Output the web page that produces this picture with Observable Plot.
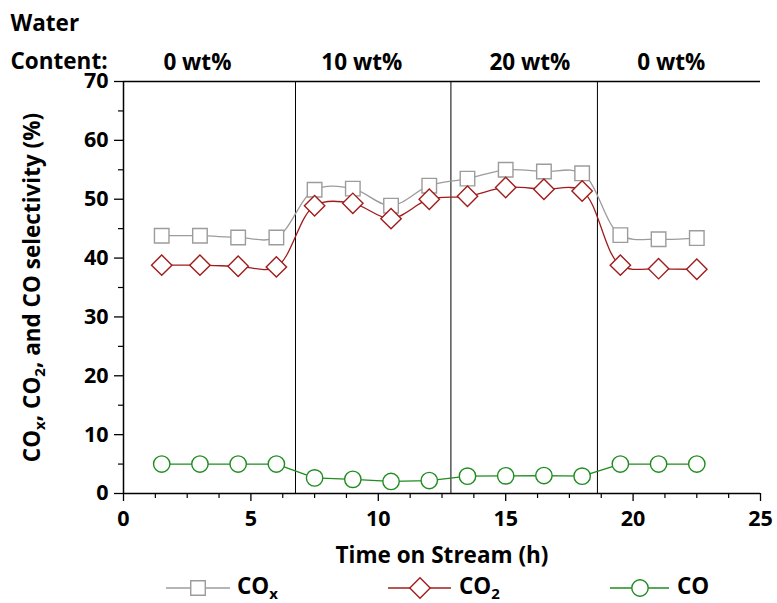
<!DOCTYPE html>
<html><head><meta charset="utf-8">
<script src="https://cdn.jsdelivr.net/npm/d3@7"></script>
<script src="https://cdn.jsdelivr.net/npm/@observablehq/plot@0.6"></script>
<style>
body{margin:0;background:#fff;font-family:"Open Sans",sans-serif;}
#wrap{position:relative;width:777px;height:603px;overflow:hidden;}
#legend{position:absolute;left:0;top:568px;width:777px;height:35px;}
.lg{position:absolute;top:0;}
.lt{position:absolute;top:4px;font:bold 22.5px "Open Sans",sans-serif;line-height:28px;color:#000;}
.lt sub{font-size:15px;vertical-align:-5px;line-height:0;}
</style></head><body>
<div id="wrap"><div id="chart"></div><div id="legend"></div></div>
<script>
// ---- data ----
const time = [1.5, 3, 4.5, 6, 7.5, 9, 10.5, 12, 13.5, 15, 16.5, 18, 19.5, 21, 22.5];
const cox  = [43.8, 43.8, 43.5, 43.5, 51.6, 51.8, 48.9, 52.3, 53.5, 55.0, 54.7, 54.4, 43.9, 43.2, 43.4];
const co2  = [38.8, 38.8, 38.6, 38.5, 48.9, 49.3, 46.7, 50.0, 50.5, 52.0, 51.7, 51.4, 38.8, 38.2, 38.1];
const co   = [5.0, 5.0, 5.0, 5.0, 2.65, 2.4, 2.05, 2.2, 2.95, 3.0, 3.05, 2.95, 5.0, 5.0, 5.0];
const switchTimes = [6.75, 12.85, 18.6];
const phaseLabels = ["0 wt%", "10 wt%", "20 wt%", "0 wt%"];
const phaseLabelX = [2.9, 9.35, 15.95, 21.5];
const seriesNames = ["COx", "CO2", "CO"];
const seriesColors = ["#9c9c9c", "#a01c1c", "#1e8c1e"];
const xDomain = [0, 25];
const yDomain = [0, 70];
const xMajor = [0, 5, 10, 15, 20, 25];
const xMinor = [1.25, 2.5, 3.75, 6.25, 7.5, 8.75, 11.25, 12.5, 13.75, 16.25, 17.5, 18.75, 21.25, 22.5, 23.75];
const yMajor = [0, 10, 20, 30, 40, 50, 60, 70];
const yMinor = [5, 15, 25, 35, 45, 55, 65];
const xTitle = "Time on Stream (h)";
const yTitle = "COx, CO2, and CO selectivity (%)";
const waterLabel = "Water\nContent:";

const values = [cox, co2, co];
const symbols = ["square", "diamond2", "circle"];
const radii = [8.2, 9.2, 8.2];
const curves = ["catmull-rom", "catmull-rom", "linear"];

const seriesMarks = [];
values.forEach((vals, k) => {
  seriesMarks.push(Plot.line(time, {x: d => d, y: (d, i) => vals[i], stroke: seriesColors[k], strokeWidth: 1.3, curve: curves[k]}));
  seriesMarks.push(Plot.dot(time, {x: d => d, y: (d, i) => vals[i], symbol: symbols[k], r: radii[k], stroke: seriesColors[k], strokeWidth: 1.4, fill: "white"}));
});

const bold = {fontSize: 21.5, fontWeight: "bold", fill: "black"};
const boldT = {fontSize: 22.5, fontWeight: "bold", fill: "black"};

const chart = Plot.plot({
  width: 777, height: 568,
  marginLeft: 123, marginRight: 17, marginTop: 81, marginBottom: 75,
  style: {fontFamily: "'Open Sans', sans-serif", color: "black", background: "white", overflow: "visible"},
  x: {domain: xDomain, axis: null},
  y: {domain: yDomain, axis: null},
  marks: [
    Plot.ruleX(switchTimes, {stroke: "black", strokeWidth: 1}),
    Plot.ruleY([yDomain[1]], {stroke: "black", strokeWidth: 1.3}),
    ...seriesMarks,
    Plot.ruleX([xDomain[0]], {stroke: "black", strokeWidth: 1.5}),
    Plot.ruleY([yDomain[0]], {stroke: "black", strokeWidth: 1.5}),
    Plot.axisX(xMajor, {tickSize: 8, tickPadding: 9, strokeWidth: 1.3, label: null, ...bold}),
    Plot.axisX(xMinor, {tickSize: 5, strokeWidth: 1.2, tickFormat: () => "", label: null}),
    Plot.axisY(yMajor, {tickSize: 9, tickPadding: 6, strokeWidth: 1.3, label: null, ...bold}),
    Plot.axisY(yMinor, {tickSize: 5, strokeWidth: 1.2, tickFormat: () => "", label: null}),
    Plot.text([xTitle], {frameAnchor: "bottom", dy: 62, lineAnchor: "middle", textAnchor: "middle", ...boldT}),
    Plot.text([yTitle], {frameAnchor: "left", dx: -91, rotate: -90, lineAnchor: "middle", textAnchor: "middle", ...boldT}),
    Plot.text(phaseLabels, {x: (d, i) => phaseLabelX[i], frameAnchor: "top", dy: -19, lineAnchor: "middle", ...boldT}),
    Plot.text([waterLabel], {frameAnchor: "top-left", dx: -113, dy: -44, textAnchor: "start", lineAnchor: "middle", lineHeight: 1.7, ...boldT})
  ]
});

// subscripts in y title
d3.select(chart).selectAll("text").each(function() {
  if (this.textContent === yTitle) {
    const t = d3.select(this);
    t.text(null);
    const parts = [["CO", false], ["x", true], [", CO", false], ["2", true], [", and CO selectivity (%)", false]];
    parts.forEach(([s, sub], j) => {
      const ts = t.append("tspan").text(s);
      if (sub) ts.attr("font-size", 15).attr("dy", 5);
      else if (j > 0) ts.attr("dy", -5);
    });
  }
});
document.getElementById("chart").appendChild(chart);

// legend
const legend = d3.select("#legend");
const legendPos = [{l0: 166, l1: 230, c: 198, t: 237}, {l0: 388, l1: 451, c: 420, t: 459}, {l0: 610, l1: 669, c: 640, t: 677}];
const legendText = ["CO<sub>x</sub>", "CO<sub>2</sub>", "CO"];
legendPos.forEach((p, k) => {
  const svg = legend.append("svg").attr("class", "lg").attr("width", 777).attr("height", 35).style("left", "0px");
  svg.append("line").attr("x1", p.l0).attr("x2", p.l1).attr("y1", 20).attr("y2", 20)
    .attr("stroke", seriesColors[k]).attr("stroke-width", 1.3);
  const sym = d3.symbol().type([d3.symbolSquare, d3.symbolDiamond2, d3.symbolCircle][k]).size(Math.PI * radii[k] * radii[k]);
  svg.append("path").attr("d", sym()).attr("transform", `translate(${p.c},20)`)
    .attr("fill", "white").attr("stroke", seriesColors[k]).attr("stroke-width", 1.4);
  legend.append("div").attr("class", "lt").style("left", p.t + "px").html(legendText[k]);
});
</script>
</body></html>
